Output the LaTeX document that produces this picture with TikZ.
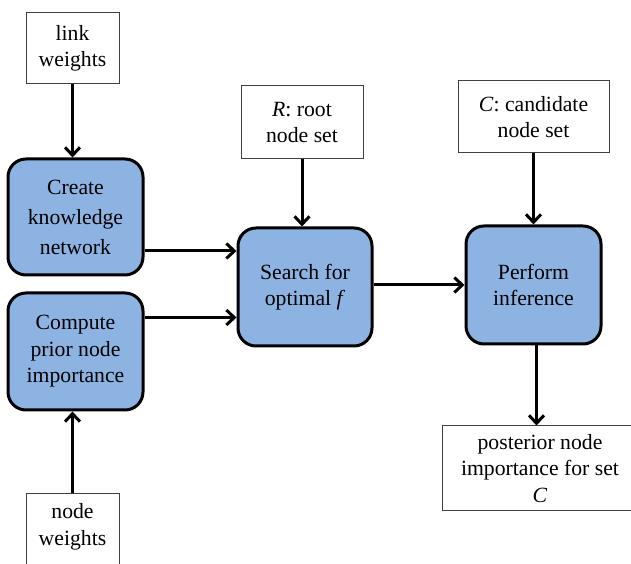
\documentclass[tikz,border=0pt]{standalone}
\usepackage{fontspec}
\setmainfont{Liberation Serif}
\usetikzlibrary{arrows.meta}
\definecolor{stepblue}{HTML}{8DB3E2}
\tikzset{
  x=1pt, y=1pt,
  txt/.style={align=center, font=\fontsize{21.7}{26.5}\selectfont, inner sep=0pt},
  plainbox/.style={draw=black!75, line width=1pt, fill=white, txt},
  procbox/.style={draw=black, line width=3pt, fill=stepblue, rounded corners=18pt, txt},
  arr/.style={line width=3pt, -{Straight Barb[length=8pt,width=15pt,line width=3pt]}}
}
\begin{document}
\begin{tikzpicture}
\useasboundingbox (0,0) rectangle (631,564);
\clip (0,0) rectangle (631,564);
\fill[white] (0,0) rectangle (631,564);

% inputs
\node[plainbox, minimum width=93pt, minimum height=71pt] (lw) at (72.5,515.5) {link\\weights};
\node[plainbox, minimum width=93pt, minimum height=95pt, anchor=north] (nw) at (72.5,71) {};
\node[txt] (nwt) at (72.5,37) {node\\weights};
\node[plainbox, minimum width=122pt, minimum height=73pt] (rs) at (302,441.5) {\textit{R}: root\\node set};
\node[plainbox, minimum width=151pt, minimum height=72pt] (cs) at (533.5,447) {\textit{C}: candidate\\node set};
\node[plainbox, minimum width=196pt, minimum height=85pt] (post) at (540,95.5) {posterior node\\importance for set\\\textit{C}};

% processing steps
\node[procbox, minimum width=135pt, minimum height=116pt, font=\fontsize{21.7}{30}\selectfont] (ck) at (75.5,347) {Create\\knowledge\\network};
\node[procbox, minimum width=135pt, minimum height=117pt] (cp) at (75.5,212.5) {Compute\\prior node\\importance};
\node[procbox, minimum width=134pt, minimum height=118pt] (sf) at (305,277) {Search for\\optimal \textit{f}};
\node[procbox, minimum width=135pt, minimum height=118pt] (pi) at (533.5,279) {Perform\\inference};

% connectors
\draw[arr] (lw.south) -- (lw.south |- ck.north);
\draw[arr] (nw.north) -- (nw.north |- cp.south);
\draw[arr] ([yshift=-34pt]ck.east) -- ([yshift=-34pt]ck.east -| sf.west);
\draw[arr] ([yshift=34pt]cp.east) -- ([yshift=34pt]cp.east -| sf.west);
\draw[arr] (rs.south) -- (rs.south |- sf.north);
\draw[arr] ([yshift=2pt]sf.east) -- ([yshift=2pt]sf.east -| pi.west);
\draw[arr] (cs.south) -- (cs.south |- pi.north);
\draw[arr] ([xshift=3pt]pi.south) -- ([xshift=3pt]pi.south |- post.north);
\end{tikzpicture}
\end{document}
